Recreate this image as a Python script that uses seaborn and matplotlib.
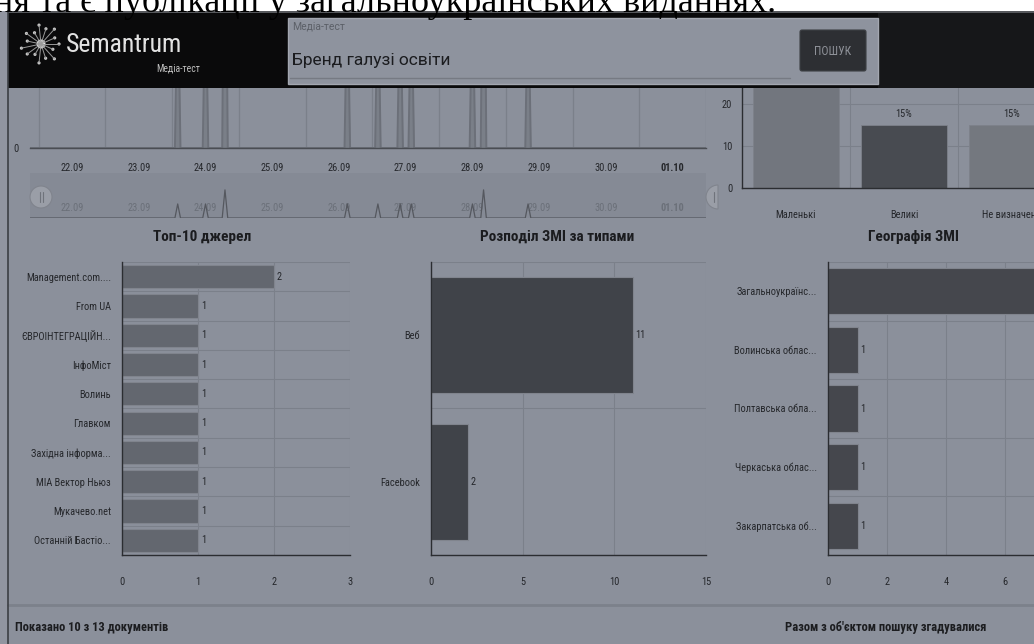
import numpy as np
import pandas as pd
import matplotlib
matplotlib.use("Agg")
import matplotlib.pyplot as plt
import matplotlib.patches as mpatches
from matplotlib import font_manager
import seaborn as sns

# ---- data ----
days = ["22.09", "23.09", "24.09", "25.09", "26.09", "27.09", "28.09", "29.09", "30.09", "01.10"]
pub_day = ["23.09", "24.09", "24.09", "26.09", "26.09", "26.09", "27.09", "28.09", "28.09", "28.09"]
pub_hour = [14, 0, 7, 3, 14, 22, 2, 0, 4, 20]
pub_count = [1, 1, 2, 1, 1, 1, 1, 1, 2, 1]

size_labels = ["Маленькі", "Великі", "Не визначено"]
size_pct = [70, 15, 15]

src_labels = ["Management.com....", "From UA", "ЄВРОІНТЕГРАЦІЙН...", "ІнфоМіст", "Волинь",
              "Главком", "Західна інформа...", "МІА Вектор Ньюз", "Мукачево.net", "Останній Бастіо..."]
src_counts = [2, 1, 1, 1, 1, 1, 1, 1, 1, 1]

type_labels = ["Веб", "Facebook"]
type_counts = [11, 2]

geo_labels = ["Загальноукраїнс...", "Волинська облас...", "Полтавська обла...",
              "Черкаська облас...", "Закарпатська об..."]
geo_counts = [9, 1, 1, 1, 1]

# hourly publication counts
hours = np.arange(-16, 9 * 24 + 13)
counts = np.zeros(len(hours))
for d, h, c in zip(pub_day, pub_hour, pub_count):
    counts[days.index(d) * 24 + h + 16] += c
timeline = pd.DataFrame({"day": hours / 24, "count": counts})

# ---- style ----
BG = "#8b909b"
TXT = "#25272b"
AXIS = "#2b2d31"
GRID = "#7b808a"

sns.set_theme(style="white")
# the dashboard uses a condensed face; take one if the machine has it
condensed = {f.name for f in font_manager.fontManager.ttflist
             if f.stretch in ("condensed", "semi-condensed", "extra-condensed")}
pick = next((n for n in ["Roboto Condensed", "Liberation Sans Narrow", "Roboto", "Noto Sans",
                         "Open Sans", "DejaVu Sans"] if n in condensed), None)
if pick:
    plt.rcParams["font.family"] = [pick, "DejaVu Sans"]
    plt.rcParams["font.stretch"] = "condensed"
    FS = 7.5
else:
    plt.rcParams["font.family"] = ["Roboto", "DejaVu Sans"]
    FS = 6.4

W, H = 1034, 644
fig = plt.figure(figsize=(W / 100, H / 100), dpi=100, facecolor=BG)


def px_axes(x0, y0, x1, y1):
    a = fig.add_axes([x0 / W, 1 - y1 / H, (x1 - x0) / W, (y1 - y0) / H])
    a.set_facecolor("none")
    return a


def clean(a):
    a.set(xlabel="", ylabel="")
    for s in ["top", "right"]:
        a.spines[s].set_visible(False)
    for s in ["left", "bottom"]:
        a.spines[s].set_color(AXIS)
        a.spines[s].set_linewidth(1.0)


# timeline
ax = px_axes(30, 88, 706, 148)
ax.fill_between(timeline["day"], timeline["count"], color="#7a7f88", lw=0)
sns.lineplot(data=timeline, x="day", y="count", color="#6c7079", lw=1.4, ax=ax)
ax.set_xlim(-0.63, 9.5)
ax.set_ylim(0, 0.35)
ax.set_xticks(range(len(days)), days)
ax.set_xticks(np.arange(-0.5, len(days), 1), minor=True)
ax.tick_params(axis="x", which="major", length=0, pad=11, labelsize=FS, labelcolor=TXT)
ax.tick_params(axis="x", which="minor", length=4, width=0.8, color="#5d6068")
ax.grid(which="minor", axis="x", color=GRID, lw=0.9)
ax.set_yticks([0])
ax.tick_params(axis="y", length=6, width=0.8, color="#5d6068", labelsize=FS, labelcolor=TXT, pad=2)
clean(ax)
ax.spines["left"].set_visible(False)
ax.spines["bottom"].set_color("#4a4d53")
ax.get_xticklabels()[-1].set_fontweight("bold")

# navigator
nav = px_axes(30, 173, 706, 218)
nav.set_facecolor("#858a95")
sns.lineplot(data=timeline, x="day", y="count", color="#55585f", lw=0.9, ax=nav)
nav.set_xlim(-0.63, 9.5)
nav.set_ylim(0, 3.2)
nav.set_xticks(range(len(days)), days)
nav.tick_params(axis="x", length=0, pad=-11, labelsize=FS, labelcolor="#6b7079")
nav.set_yticks([])
nav.set(xlabel="", ylabel="")
for s in nav.spines.values():
    s.set_visible(False)
nav.get_xticklabels()[-1].set_fontweight("bold")

# media size (top right); its upper part sits under the header
ax_sz = px_axes(742, 20, 1066, 188)
sns.barplot(x=size_labels, y=size_pct, hue=size_labels, legend=False,
            palette=["#72767e", "#484b51", "#74787f"], saturation=1, width=0.8,
            edgecolor="#7d818a", linewidth=0.6, ax=ax_sz)
for cont, v in zip(ax_sz.containers, size_pct):
    ax_sz.bar_label(cont, labels=[f"{v}%"], padding=4, fontsize=FS, color=TXT)
ax_sz.set_ylim(0, 40)
ax_sz.set_xlim(-0.5, 2.5)
ax_sz.set_yticks([0, 10, 20])
ax_sz.set_xticks([0.5, 1.5], minor=True)
ax_sz.grid(which="major", axis="y", color=GRID, lw=0.8)
ax_sz.grid(which="minor", axis="x", color=GRID, lw=0.8)
ax_sz.tick_params(axis="x", which="major", length=4, width=0.8, color=AXIS, pad=12,
                  labelsize=FS, labelcolor=TXT)
ax_sz.tick_params(axis="x", which="minor", length=0)
ax_sz.tick_params(axis="y", length=4, width=0.8, color=AXIS, pad=3, labelsize=FS, labelcolor=TXT)
clean(ax_sz)


def hbars(box, labels, values, color, xmax, xticks):
    a = px_axes(*box)
    sns.barplot(x=values, y=labels, orient="h", color=color, saturation=1, width=0.79,
                edgecolor="#80848d", linewidth=0.8, ax=a)
    a.bar_label(a.containers[0], padding=2, fontsize=FS, color=TXT)
    a.set_xlim(0, xmax)
    a.set_xticks(xticks)
    a.set_ylim(len(labels) - 0.5, -0.5)
    a.set_yticks(np.arange(-0.5, len(labels)), minor=True)
    a.grid(which="minor", axis="y", color=GRID, lw=0.8)
    a.grid(which="major", axis="x", color=GRID, lw=0.8)
    a.tick_params(axis="y", which="major", length=4, width=0.8, color=AXIS, pad=4,
                  labelsize=FS, labelcolor=TXT)
    a.tick_params(axis="y", which="minor", length=0)
    a.tick_params(axis="x", length=3, width=0.8, color=AXIS, pad=13, labelsize=FS, labelcolor=TXT)
    clean(a)
    return a


hbars((122, 262, 350, 555), src_labels, src_counts, "#63676f", 3, [0, 1, 2, 3])
hbars((431, 262, 706, 555), type_labels, type_counts, "#404349", 15, [0, 5, 10, 15])
hbars((828, 262, 1123, 555), geo_labels, geo_counts, "#45474d", 10, [0, 2, 4, 6, 8, 10])

title_kw = dict(ha="center", va="center", fontsize=FS + 3.5, fontweight="bold", color="#1b1c1f")
fig.text(202 / W, 1 - 237 / H, "Топ-10 джерел", **title_kw)
fig.text(557 / W, 1 - 237 / H, "Розподіл ЗМІ за типами", **title_kw)
fig.text(914 / W, 1 - 237 / H, "Географія ЗМІ", **title_kw)

# ---- page chrome drawn on top ----
ov = fig.add_axes([0, 0, 1, 1])
ov.set_xlim(0, W)
ov.set_ylim(H, 0)
ov.axis("off")


def box(x0, y0, x1, y1, fc, ec="none", lw=0):
    ov.add_patch(mpatches.Rectangle((x0, y0), x1 - x0, y1 - y0, fc=fc, ec=ec, lw=lw))


# navigator handles
ov.add_patch(mpatches.Circle((41, 197), 11, fc="#9a9ea7", ec="#80848d", lw=0.8))
ov.plot([39.5, 39.5], [192, 202], color="#6f737b", lw=0.8)
ov.plot([42.5, 42.5], [192, 202], color="#6f737b", lw=0.8)
ov.add_patch(mpatches.Wedge((718, 197), 12, 90, 270, fc="#9a9ea7", ec="#80848d", lw=0.8))
ov.plot([714, 714], [192, 202], color="#6f737b", lw=0.8)

# bottom strip
ov.plot([8, W], [605, 605], color="#7c818b", lw=2)
foot_kw = dict(va="center", fontsize=FS + 1.5, fontweight="bold", color="#1c1d20")
ov.text(15, 628, "Показано 10 з 13 документів", ha="left", **foot_kw)
ov.text(785, 628, "Разом з об'єктом пошуку згадувалися", ha="left", **foot_kw)

# left frame and white strip
box(0, 0, W, 11, "white")
box(0, 11, 8, H, "#9195a0")
ov.plot([8, 8], [11, H], color="#3c3f44", lw=1.2)
ov.text(-6, 12, "ня та є публікації у загальноукраїнських виданнях.", ha="left", va="baseline",
        fontsize=26, color="black", family=["Liberation Serif", "DejaVu Serif"], stretch="normal")

# header bar
box(8, 11, W, 88, "#0a0a0b")
box(878, 11, W, 88, "#161719")
box(8, 11, W, 12.5, "#56585c")
box(288, 18, 878, 84, "#8e939e", ec="#a3a7b0", lw=1)
ov.plot([290, 790], [78, 78], color="#767a83", lw=1)
plain = dict(family=["Roboto", "DejaVu Sans"], stretch="normal")
ov.text(292, 26, "Медіа-тест", ha="left", va="center", fontsize=7.5, color="#5c6068", **plain)
ov.text(292, 60, "Бренд галузі освіти", ha="left", va="center", fontsize=12.5, color="#1b1c1f", **plain)
ov.add_patch(mpatches.FancyBboxPatch((800, 30), 66, 41, boxstyle="round,pad=0,rounding_size=2",
                                     fc="#2d2f33", ec="#3d4044", lw=0.8))
ov.text(833, 51, "ПОШУК", ha="center", va="center", fontsize=FS + 1, color="#8f9299")

# logo
ray_angles = np.arange(0, 360, 24)
ray_len = [18, 13, 20, 15, 19, 12, 17, 20, 14, 18, 13, 19, 16, 20, 15]
for ang, ln in zip(ray_angles, ray_len):
    ex = 41 + ln * np.cos(np.radians(ang))
    ey = 44 + ln * np.sin(np.radians(ang))
    ov.plot([41, ex], [44, ey], color="#9a9a9a", lw=0.7)
    ov.add_patch(mpatches.Circle((ex, ey), 1.6, fc="#c9c9c9", ec="none"))
ov.add_patch(mpatches.Circle((41, 44), 4.5, fc="#e8e8e8", ec="none"))
ov.text(66, 45, "Semantrum", ha="left", va="center", fontsize=18.5, color="#e2e2e2")
ov.text(200, 68, "Медіа-тест", ha="right", va="center", fontsize=FS - 0.5, color="#bdbdbd")

fig.savefig("out.png", dpi=100, facecolor=BG)
